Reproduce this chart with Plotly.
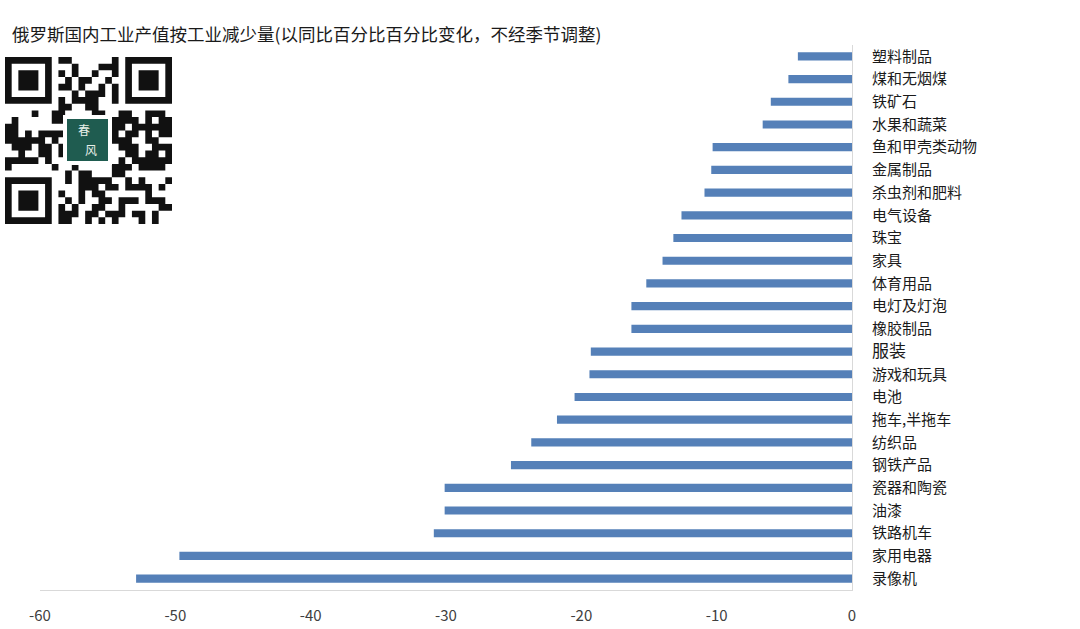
import hashlib
import plotly.graph_objects as go

# ---------------- data ----------------
categories = ["塑料制品", "煤和无烟煤", "铁矿石", "水果和蔬菜", "鱼和甲壳类动物", "金属制品",
              "杀虫剂和肥料", "电气设备", "珠宝", "家具", "体育用品", "电灯及灯泡", "橡胶制品",
              "服装", "游戏和玩具", "电池", "拖车,半拖车", "纺织品", "钢铁产品", "瓷器和陶瓷",
              "油漆", "铁路机车", "家用电器", "录像机"]
values = [-4.0, -4.7, -6.0, -6.6, -10.3, -10.4, -10.9, -12.6, -13.2, -14.0, -15.2, -16.3, -16.3,
          -19.3, -19.4, -20.5, -21.8, -23.7, -25.2, -30.1, -30.1, -30.9, -49.7, -52.9]
x_ticks = [-60, -50, -40, -30, -20, -10, 0]
title_text = "俄罗斯国内工业产值按工业减少量(以同比百分比百分比变化，不经季节调整)"

# ---------------- layout geometry (pixels in the window) ----------------
W, H = 1080, 629
PL, PR, PT, PB = 40, 852, 45, 590  # plot area edges in window pixels


def px(x):
    return (x - PL) / (PR - PL)


def py(y):
    return (PB - y) / (PB - PT)


FONT = "Noto Sans CJK SC, Noto Sans, sans-serif"

ticktext = [f'<span style="font-size:17px">{c}</span>' if c == "服装" else c for c in categories]

fig = go.Figure(go.Bar(
    x=values, y=categories, orientation="h",
    marker=dict(color="#5580B8", line=dict(width=0)),
    width=0.36, hoverinfo="x+y",
))

fig.update_layout(
    width=W, height=H,
    margin=dict(l=PL, r=W - PR, t=PT, b=H - PB, pad=0, autoexpand=False),
    paper_bgcolor="white", plot_bgcolor="white",
    showlegend=False,
    font=dict(family=FONT, color="#1a1a1a"),
)
fig.update_xaxes(
    range=[-60, 0], tickvals=x_ticks, ticktext=[str(v) for v in x_ticks],
    showgrid=False, zeroline=False, showline=True, linecolor="#d9d9d9", linewidth=1,
    ticks="", tickfont=dict(size=15, color="#404040"), ticklabelstandoff=12,
    automargin=False,
)
fig.update_yaxes(
    side="right", categoryorder="array", categoryarray=categories,
    tickvals=categories, ticktext=ticktext,
    range=[len(categories) - 0.5, -0.5],
    showgrid=False, zeroline=False, showline=True, linecolor="#d9d9d9", linewidth=1,
    ticks="", tickfont=dict(size=15, color="#1a1a1a"), ticklabelstandoff=16,
    automargin=False,
)

fig.add_annotation(
    text=title_text, xref="paper", yref="paper", x=px(10), y=py(33),
    xanchor="left", yanchor="middle", showarrow=False,
    font=dict(size=17.5, color="#1a1a1a", family=FONT),
)

# ---------------- decorative QR-like watermark ----------------
N = 25
qx0, qy0, qs = 5.0, 57.0, 167.0 / 25
seed = hashlib.sha256("chunfeng-watermark".encode()).digest()
bits = []
k = 0
while len(bits) < N * N:
    b = hashlib.sha256(seed + bytes([k % 256, k // 256])).digest()
    for byte in b:
        for i in range(8):
            bits.append((byte >> i) & 1)
    k += 1
M = [[bits[r * N + c] for c in range(N)] for r in range(N)]


def finder(r0, c0):
    for r in range(-1, 8):
        for c in range(-1, 8):
            rr, cc = r0 + r, c0 + c
            if 0 <= rr < N and 0 <= cc < N:
                M[rr][cc] = 0
    for r in range(7):
        for c in range(7):
            ring = r in (0, 6) or c in (0, 6)
            core = 2 <= r <= 4 and 2 <= c <= 4
            M[r0 + r][c0 + c] = 1 if (ring or core) else 0


finder(0, 0)
finder(0, N - 7)
finder(N - 7, 0)

path = []
for r in range(N):
    for c in range(N):
        if M[r][c]:
            x0 = px(qx0 + c * qs)
            x1 = px(qx0 + (c + 1) * qs)
            y0 = py(qy0 + r * qs)
            y1 = py(qy0 + (r + 1) * qs)
            path.append(f"M{x0:.5f},{y0:.5f}H{x1:.5f}V{y1:.5f}H{x0:.5f}Z")
fig.add_shape(type="path", xref="paper", yref="paper", path="".join(path),
              fillcolor="#111111", line=dict(width=0), layer="above")

# logo in the middle
fig.add_shape(type="rect", xref="paper", yref="paper",
              x0=px(63), x1=px(112), y0=py(115), y1=py(165),
              fillcolor="white", line=dict(width=0), layer="above")
fig.add_shape(type="rect", xref="paper", yref="paper",
              x0=px(67), x1=px(108), y0=py(119), y1=py(161),
              fillcolor="#1f5c50", line=dict(width=0), layer="above")
fig.add_annotation(text="春", xref="paper", yref="paper", x=px(84), y=py(130),
                   xanchor="center", yanchor="middle",
                   showarrow=False, font=dict(size=12, color="#e8efe9", family=FONT))
fig.add_annotation(text="风", xref="paper", yref="paper", x=px(91), y=py(150),
                   xanchor="center", yanchor="middle",
                   showarrow=False, font=dict(size=12, color="#e8efe9", family=FONT))

fig.write_html(
    "out.html",
    config={"displayModeBar": False},
    post_script="document.body.style.margin='0';document.body.style.overflow='hidden';",
)
